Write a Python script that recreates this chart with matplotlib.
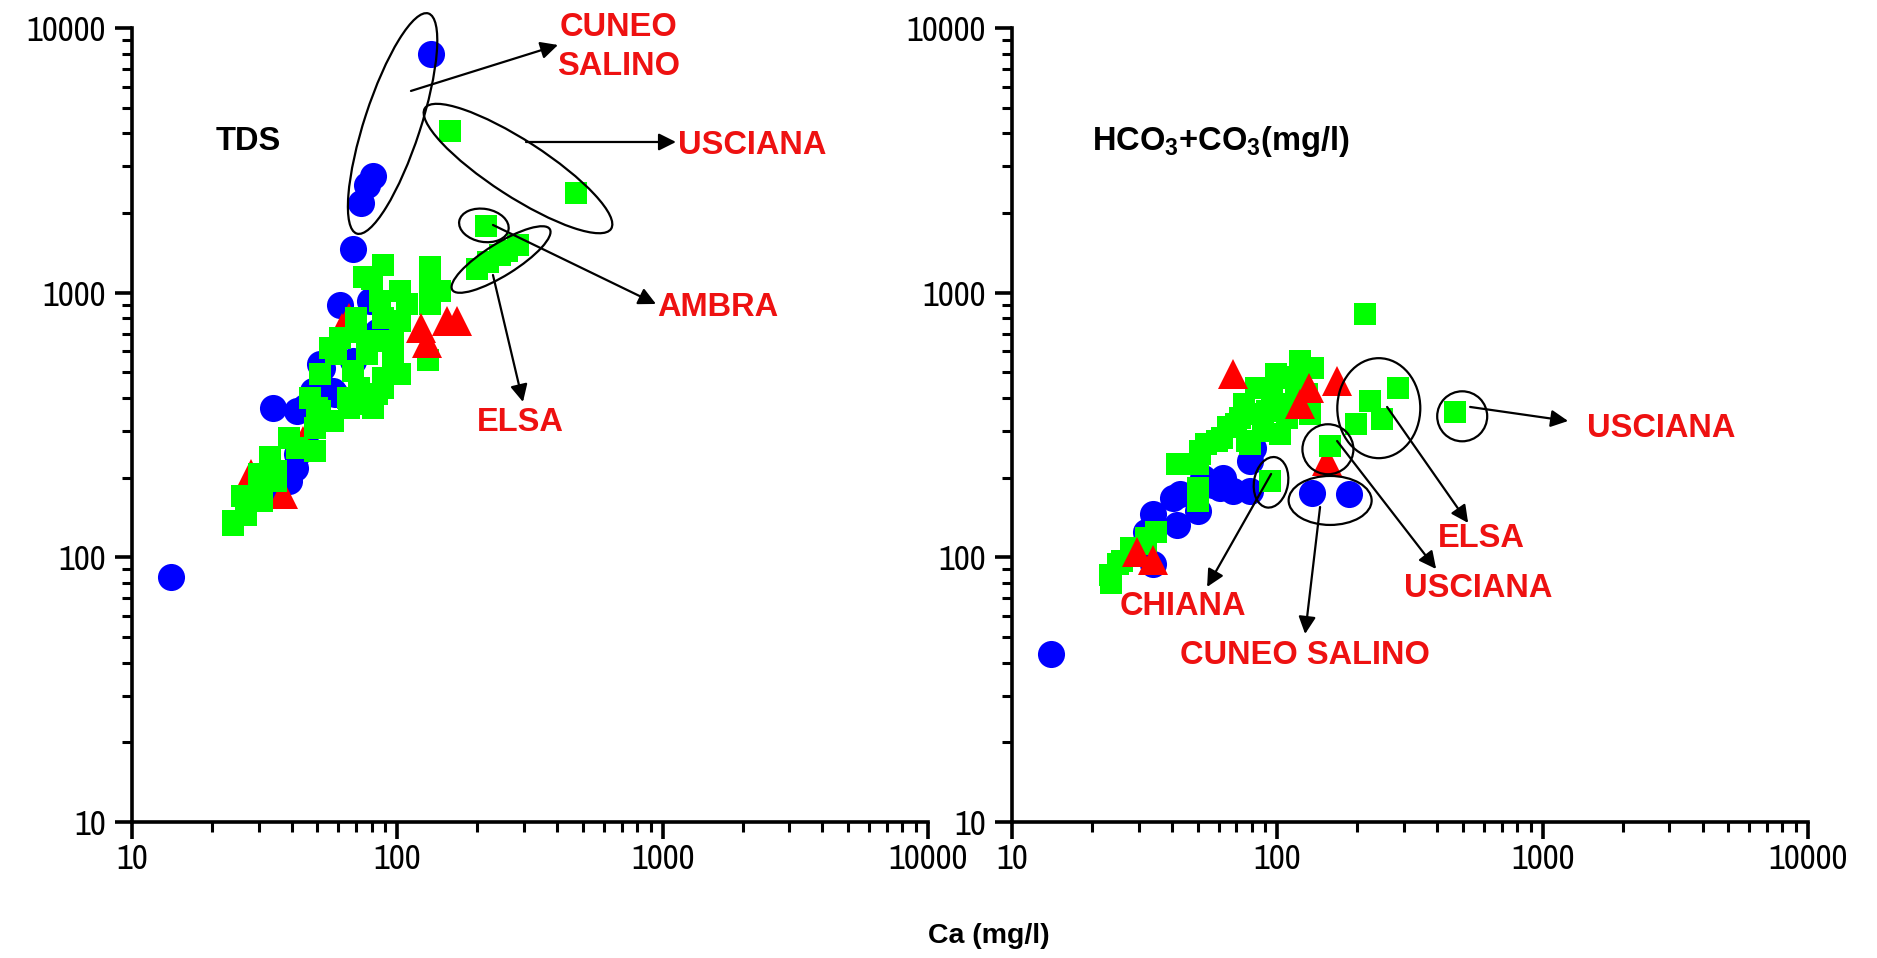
import numpy as np
import matplotlib
matplotlib.use('Agg')
import matplotlib.pyplot as plt
from matplotlib import font_manager
from matplotlib.patches import Ellipse

# ---- data (Ca vs TDS) ----
tds_blue_ca = [14, 134, 81, 77, 73, 68, 61, 79, 51, 84, 68, 48, 57, 34, 42, 49, 58, 41, 39, 46, 42, 35, 52, 45]
tds_blue = [84, 7960, 2750, 2560, 2190, 1460, 900, 930, 536, 713, 550, 424, 424, 366, 356, 424, 415, 217, 194, 258, 245, 172, 520, 370]

tds_green_ca = [158, 471, 216, 285, 260, 244, 220, 200,
                88, 133, 80, 102, 133, 145, 86, 109, 133, 70, 88, 102, 70, 131,
                61, 81, 96, 56, 59, 77, 96, 51, 68, 88, 102, 47, 72, 84, 51, 66,
                81, 50, 39, 49, 57, 49, 42, 35, 35, 27, 31, 24, 27, 24, 65, 76,
                88, 75, 30, 33, 26, 30]
tds_green = [4090, 2388, 1778, 1520, 1440, 1390, 1300, 1225,
             1277, 1255, 1122, 1012, 1038, 1012, 927, 902, 902, 800, 800, 778, 713, 555,
             671, 655, 655, 616, 585, 585, 550, 491, 504, 474, 491, 399, 435, 413, 356, 366,
             366, 366, 282, 307, 327, 252, 258, 211, 194, 163, 163, 137, 145, 133, 399, 379,
             435, 1150, 206, 240, 170, 194]

# first tds_red_front triangles sit above the squares, the rest are hidden under them
tds_red_ca = [123, 129, 154, 168, 66, 62, 28, 44, 37]
tds_red = [733, 643, 778, 778, 800, 733, 206, 274, 173]
tds_red_front = 4

# ---- data (Ca vs HCO3+CO3) ----
hco3_blue_ca = [14, 135, 186, 79, 79, 68, 61, 43, 40.5, 34, 42, 52.5, 50, 32, 57, 34, 81, 62.5]
hco3_blue = [43, 175, 173, 231, 178, 178, 182, 173, 167, 146, 133, 199, 150, 125, 188, 94, 258, 199]

hco3_green_ca = [214, 285, 223, 248, 198, 468, 158,
                 42, 51, 59, 70, 83, 83, 99, 50, 94, 79, 122, 136, 102, 86, 129,
                 91, 109, 133, 72, 62, 54, 77, 102, 50, 50, 35, 32, 26, 23.4, 51,
                 32, 28, 25, 23.5, 115, 118, 95, 110, 75, 65, 88]
hco3_green = [828, 435, 388, 332, 318, 353, 263,
              225, 252, 274, 318, 347, 435, 491, 182, 194, 267, 550, 517, 474, 435, 413,
              356, 335, 347, 335, 282, 267, 274, 292, 225, 163, 125, 112, 97, 86, 246,
              118, 108, 94, 80, 480, 440, 400, 380, 380, 310, 300]

hco3_red_ca = [168, 131, 122, 68, 29.6, 34, 154]
hco3_red = [462, 435, 379, 491, 105, 98, 231]
hco3_red_front = 6

BLUE = '#0000ff'
GREEN = '#00ff00'
RED = '#ff0000'
TXT_RED = '#ee1111'

plt.rcParams['font.family'] = ['Liberation Sans', 'DejaVu Sans']
plt.rcParams['mathtext.fontset'] = 'custom'
plt.rcParams['mathtext.rm'] = 'Liberation Sans'
plt.rcParams['mathtext.bf'] = 'Liberation Sans:bold'

# tick numbers in the original are a narrow face - use one if there is any
TICK_PROPS = dict(family='Liberation Sans', size=21)
for f in font_manager.fontManager.ttflist:
    if 'Narrow' in f.name and f.weight in (400, 'normal', 'regular') and f.style == 'normal':
        TICK_PROPS = dict(fname=f.fname, size=25)
        break
TICK_FP = font_manager.FontProperties(**TICK_PROPS)

fig = plt.figure(figsize=(18.77, 9.58), dpi=100)
ax1 = fig.add_axes([0.0703, 0.1420, 0.4241, 0.8288])
ax2 = fig.add_axes([0.5392, 0.1420, 0.4241, 0.8288])


def style_axes(ax):
    ax.set_xscale('log')
    ax.set_yscale('log')
    ax.set_xlim(10, 10000)
    ax.set_ylim(10, 10000)
    for s in ['top', 'right']:
        ax.spines[s].set_visible(False)
    for s in ['left', 'bottom']:
        ax.spines[s].set_linewidth(2.6)
    ax.tick_params(which='major', direction='out', length=12.5, width=2.6)
    ax.tick_params(which='minor', direction='out', length=7, width=2.2)
    ax.tick_params(axis='x', which='major', pad=3)
    ax.tick_params(axis='y', which='major', pad=6.5)
    fmt = matplotlib.ticker.FuncFormatter(lambda v, p: f'{v:g}')
    ax.xaxis.set_major_formatter(fmt)
    ax.yaxis.set_major_formatter(fmt)
    ax.xaxis.set_minor_formatter(matplotlib.ticker.NullFormatter())
    ax.yaxis.set_minor_formatter(matplotlib.ticker.NullFormatter())
    for lab in ax.get_xticklabels() + ax.get_yticklabels():
        lab.set_fontproperties(TICK_FP)


def scatter_set(ax, bx, by, gx, gy, rx, ry, n_front):
    ax.plot(bx, by, 'o', color=BLUE, ms=19.5, mew=0, ls='none', clip_on=False, zorder=2)
    ax.plot(rx[n_front:], ry[n_front:], '^', color=RED, ms=21, mew=0, ls='none', zorder=2.5)
    ax.plot(gx, gy, 's', color=GREEN, ms=16.5, mew=0, ls='none', clip_on=False, zorder=3)
    ax.plot(rx[:n_front], ry[:n_front], '^', color=RED, ms=21, mew=0, ls='none', zorder=4)


def ring(ax, cx, cy, w_px, h_px, ang):
    # centre in data units, size in pixels of the ~796 px axes
    fx = (np.log10(cx) - 1) / 3
    fy = (np.log10(cy) - 1) / 3
    e = Ellipse((fx, fy), w_px / 796, h_px / 794, angle=ang, transform=ax.transAxes,
                fill=False, ec='black', lw=1.6, zorder=5, clip_on=False)
    ax.add_patch(e)


def arrow(ax, tail, head):
    ax.annotate('', xy=head, xytext=tail, xycoords='axes fraction',
                arrowprops=dict(arrowstyle='-|>', color='black', lw=1.6,
                                mutation_scale=26, shrinkA=0, shrinkB=0), zorder=6)


def label(ax, x, y, s, color=TXT_RED, size=23.5, ls=1.1):
    ax.text(x, y, s, transform=ax.transAxes, color=color, fontsize=size,
            fontweight='bold', ha='center', va='center', linespacing=ls)


for ax in (ax1, ax2):
    style_axes(ax)

scatter_set(ax1, tds_blue_ca, tds_blue, tds_green_ca, tds_green, tds_red_ca, tds_red, tds_red_front)
scatter_set(ax2, hco3_blue_ca, hco3_blue, hco3_green_ca, hco3_green, hco3_red_ca, hco3_red, hco3_red_front)

# left panel annotations
label(ax1, 0.1457, 0.857, 'TDS', color='black')
ring(ax1, 96, 4355, 232, 56, 72)
ring(ax1, 285, 2944, 222, 56, -33)
ring(ax1, 212, 1795, 50, 33, -10)
ring(ax1, 246, 1334, 115, 32, 32)
arrow(ax1, (0.3505, 0.9207), (0.5352, 0.9786))
arrow(ax1, (0.495, 0.8564), (0.6834, 0.8564))
arrow(ax1, (0.4535, 0.7519), (0.6583, 0.6524))
arrow(ax1, (0.4535, 0.6889), (0.4912, 0.529))
label(ax1, 0.6118, 0.976, 'CUNEO\nSALINO', ls=1.35)
label(ax1, 0.7789, 0.8514, 'USCIANA')
label(ax1, 0.7362, 0.6485, 'AMBRA')
label(ax1, 0.4874, 0.503, 'ELSA')

# right panel annotations
label(ax2, 0.2626, 0.857, 'HCO$_\\mathbf{3}$+CO$_\\mathbf{3}$(mg/l)', color='black')
ring(ax2, 94.6, 192, 34, 51, -10)
ring(ax2, 158, 164, 83, 49, 0)
ring(ax2, 155, 256, 51, 50, 0)
ring(ax2, 241, 366, 83, 100, 0)
ring(ax2, 497, 341, 50, 50, 0)
arrow(ax2, (0.3254, 0.4383), (0.245, 0.296))
arrow(ax2, (0.3869, 0.3967), (0.3681, 0.2368))
arrow(ax2, (0.4083, 0.4798), (0.5327, 0.3186))
arrow(ax2, (0.4711, 0.5227), (0.5729, 0.3766))
arrow(ax2, (0.5754, 0.5227), (0.6985, 0.505))
label(ax2, 0.2148, 0.2708, 'CHIANA')
label(ax2, 0.3681, 0.2091, 'CUNEO SALINO')
label(ax2, 0.5854, 0.2935, 'USCIANA')
label(ax2, 0.5892, 0.3564, 'ELSA')
label(ax2, 0.8153, 0.4950, 'USCIANA')

fig.text(0.527, 0.023, 'Ca (mg/l)', fontsize=20.5, fontweight='bold', ha='center', va='center')

fig.savefig('out.png', dpi=100)
